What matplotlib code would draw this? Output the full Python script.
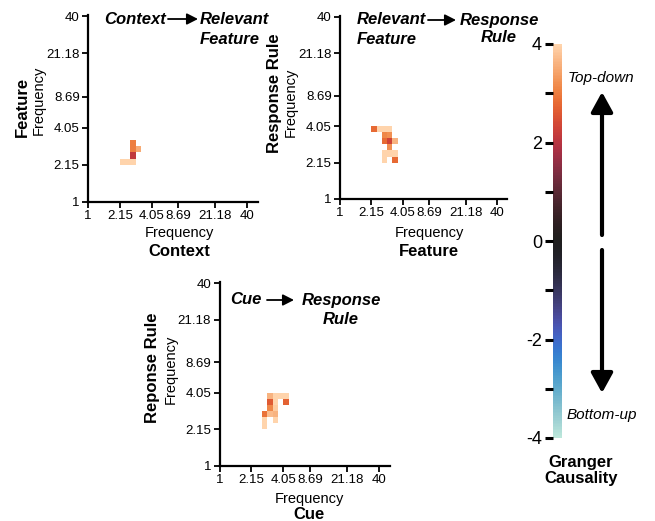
import numpy as np
import matplotlib
matplotlib.use("Agg")
import matplotlib.pyplot as plt
import seaborn as sns

plt.rcParams['font.family'] = ['Liberation Sans', 'DejaVu Sans']
plt.rcParams['axes.unicode_minus'] = False

# ------------------------------------------------------------------
# Data: frequency grid (30 log-spaced bins, 1-40 Hz) and GC cells
# ------------------------------------------------------------------
N_BINS = 30
freq_tick_labels = ['1', '2.15', '4.05', '8.69', '21.18', '40']
freq_tick_bins = [0, 6, 12, 17, 24, 30]

# Context -> Relevant Feature
ctx_cols = [6, 7, 8, 8, 8, 8, 9]
ctx_rows = [6, 6, 6, 7, 8, 9, 8]
ctx_vals = [4.0, 4.0, 4.0, 2.1, 3.0, 3.0, 3.5]

# Relevant Feature -> Response Rule
feat_cols = [6, 7, 8, 9, 8, 9, 8, 9, 10, 9, 8, 9, 10, 8, 10]
feat_rows = [11, 11, 11, 11, 10, 10, 9, 9, 9, 8, 7, 7, 7, 6, 6]
feat_vals = [2.8, 4.0, 4.0, 4.0, 3.1, 3.2, 2.8, 2.3, 3.6, 3.2,
             4.0, 4.0, 4.0, 4.0, 2.8]

# Cue -> Response Rule
cue_cols = [9, 10, 11, 12, 9, 10, 12, 9, 10, 8, 9, 10, 8, 10, 8]
cue_rows = [11, 11, 11, 11, 10, 10, 10, 9, 9, 8, 8, 8, 7, 7, 6]
cue_vals = [3.6, 4.0, 4.0, 4.0, 2.6, 4.0, 2.7, 3.1, 3.9, 2.9,
            3.7, 3.6, 4.0, 4.0, 4.0]

cbar_ticks = [-4, -2, 0, 2, 4]
cbar_minor = [-3, -1, 1, 3]

W, H = 655, 521
cmap = sns.color_palette('icefire', as_cmap=True)


def px(x, y):
    """pixel position -> figure fraction"""
    return x / W, 1 - y / H


def build_grid(cols, rows, vals):
    grid = np.full((N_BINS, N_BINS), np.nan)
    for c, r, v in zip(cols, rows, vals):
        grid[r, c] = v
    return grid


def draw_panel(fig, rect, cols, rows, vals):
    ax = fig.add_axes(rect)
    edges = np.arange(N_BINS + 1)
    ax.pcolormesh(edges, edges, build_grid(cols, rows, vals),
                  cmap=cmap, vmin=-4, vmax=4)
    ax.set_xlim(0, 32)
    ax.set_ylim(0, 30.2)
    ax.set_xticks(freq_tick_bins)
    ax.set_xticklabels(freq_tick_labels)
    ax.set_yticks(freq_tick_bins)
    ax.set_yticklabels(freq_tick_labels)
    for s in ['top', 'right']:
        ax.spines[s].set_visible(False)
    for s in ['left', 'bottom']:
        ax.spines[s].set_linewidth(1.6)
    ax.tick_params(length=4, width=1.3, labelsize=9.5, pad=2)
    return ax


def small_arrow(fig, x0, x1, y):
    fig.add_artist(matplotlib.patches.FancyArrowPatch(
        px(x0, y), px(x1, y), transform=fig.transFigure,
        arrowstyle='-|>,head_length=0.55,head_width=0.28',
        mutation_scale=12, lw=1.3, color='black',
        shrinkA=0, shrinkB=0))


def title_text(fig, x, y, s, ha='left'):
    fig.text(*px(x, y), s, fontsize=12, fontweight='bold',
             fontstyle='italic', ha=ha, va='center')


fig = plt.figure(figsize=(W / 100, H / 100), dpi=100)

# ------------------------------------------------------------------
# Panels
# ------------------------------------------------------------------
draw_panel(fig, [88 / W, 1 - 202 / H, 169.6 / W, 187.2 / H],
           ctx_cols, ctx_rows, ctx_vals)
draw_panel(fig, [340 / W, 1 - 199 / H, 167.4 / W, 183.3 / H],
           feat_cols, feat_rows, feat_vals)
draw_panel(fig, [219.5 / W, 1 - 466 / H, 170.2 / W, 184.2 / H],
           cue_cols, cue_rows, cue_vals)

# titles
title_text(fig, 104, 19, 'Context')
small_arrow(fig, 168, 198, 19)
title_text(fig, 200, 19, 'Relevant')
title_text(fig, 200, 39, 'Feature')

title_text(fig, 357, 20, 'Relevant')
title_text(fig, 357, 40, 'Feature')
small_arrow(fig, 428, 456, 20)
title_text(fig, 499, 20, 'Response', ha='center')
title_text(fig, 499, 38, 'Rule', ha='center')

title_text(fig, 230, 300, 'Cue')
small_arrow(fig, 267, 294, 300)
title_text(fig, 341, 300, 'Response', ha='center')
title_text(fig, 341, 320, 'Rule', ha='center')


# axis labels
def ylabels(x_bold, x_freq, y_bold, y_freq, name):
    fig.text(*px(x_bold, y_bold), name, rotation=90, fontsize=12,
             fontweight='bold', ha='center', va='center')
    fig.text(*px(x_freq, y_freq), 'Frequency', rotation=90, fontsize=10.5,
             ha='center', va='center')


def xlabels(x, y_freq, y_bold, name, va='center'):
    fig.text(*px(x, y_freq), 'Frequency', fontsize=10.5,
             ha='center', va='center')
    fig.text(*px(x, y_bold), name, fontsize=12, fontweight='bold',
             ha='center', va=va)


ylabels(22, 39, 107, 100, 'Feature')
ylabels(274, 291, 93, 102, 'Response Rule')
ylabels(152, 171, 368, 369, 'Reponse Rule')
xlabels(179, 233, 251, 'Context')
xlabels(429, 233, 251, 'Feature')
xlabels(309, 499, 519, 'Cue', va='baseline')

# ------------------------------------------------------------------
# Colorbar
# ------------------------------------------------------------------
cax = fig.add_axes([553 / W, 1 - 438 / H, 9 / W, 394 / H])
sm = matplotlib.cm.ScalarMappable(cmap=cmap,
                                  norm=matplotlib.colors.Normalize(-4, 4))
cb = fig.colorbar(sm, cax=cax, ticks=cbar_ticks)
cb.outline.set_visible(False)
cax.yaxis.set_ticks_position('left')
cax.yaxis.set_label_position('left')
cax.set_yticks(cbar_minor, minor=True)
cax.tick_params(which='major', length=6, width=2.2, labelsize=13, pad=2)
cax.tick_params(which='minor', length=6, width=2.2)

fig.text(*px(568, 78), 'Top-down', fontsize=11, fontstyle='italic',
         ha='left', va='center')
fig.text(*px(567, 415), 'Bottom-up', fontsize=11, fontstyle='italic',
         ha='left', va='center')
fig.text(*px(581, 462), 'Granger', fontsize=12, fontweight='bold',
         ha='center', va='center')
fig.text(*px(581, 479), 'Causality', fontsize=12, fontweight='bold',
         ha='center', va='center')

for y0, y1 in [(235, 92), (250, 393)]:
    fig.add_artist(matplotlib.patches.FancyArrowPatch(
        px(602, y0), px(602, y1), transform=fig.transFigure,
        arrowstyle='-|>,head_length=1.0,head_width=0.55',
        mutation_scale=12, lw=3, color='black',
        shrinkA=0, shrinkB=0))

fig.savefig('out.png', dpi=100)
